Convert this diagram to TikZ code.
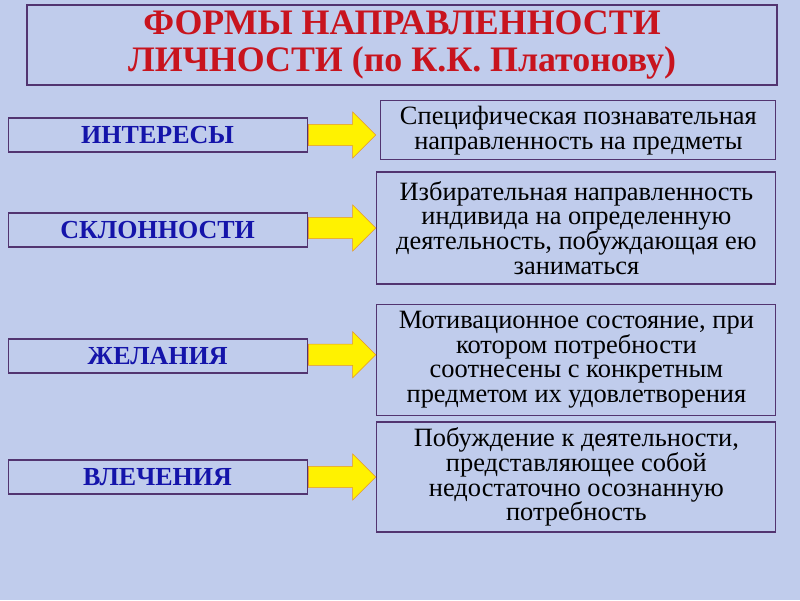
\documentclass[tikz,border=0pt]{standalone}
\usepackage{fontspec}
\setmainfont{Liberation Serif}
\usetikzlibrary{shapes.arrows}
\definecolor{bgblue}{RGB}{192,204,236}
\definecolor{frame}{RGB}{82,52,112}
\definecolor{titlered}{RGB}{200,20,30}
\definecolor{formblue}{RGB}{20,20,170}
\definecolor{arrowedge}{RGB}{230,150,40}
\tikzset{
  formbox/.style={rectangle, draw=frame, line width=0.8pt, minimum width=7.475cm, minimum height=0.85cm, font=\fontsize{18.5}{20}\selectfont\bfseries, text=formblue},
  descbox/.style={rectangle, draw=frame, line width=0.8pt, minimum width=9.975cm, align=center, font=\fontsize{18.8}{17.6}\selectfont, inner sep=2pt},
  fatarrow/.style={single arrow, draw=arrowedge, fill=yellow, minimum height=1.68cm, minimum width=1.15cm, single arrow head extend=0.3cm, inner sep=0.25cm}
}
\begin{document}
\begin{tikzpicture}
\fill[bgblue] (0,0) rectangle (20,15);
\useasboundingbox (0,0) rectangle (20,15);

\node [rectangle, draw=frame, line width=0.8pt, minimum width=18.75cm, minimum height=2cm, align=center, text=titlered, font=\fontsize{25.5}{26}\selectfont\bfseries] (title) at (10.05,13.875) {ФОРМЫ НАПРАВЛЕННОСТИ\\ЛИЧНОСТИ (по К.К. Платонову)};

\node [formbox] (interests)   at (3.94,11.625) {ИНТЕРЕСЫ};
\node [formbox] (inclination) at (3.94,9.25)   {СКЛОННОСТИ};
\node [formbox] (wishes)      at (3.94,6.1)    {ЖЕЛАНИЯ};
\node [formbox] (drives)      at (3.94,3.075)  {ВЛЕЧЕНИЯ};

\node [descbox, minimum width=9.875cm, minimum height=1.475cm] (interestsdesc) at (14.46,11.74) {Специфическая познавательная\\направленность на предметы};
\node [descbox, minimum height=2.8cm] (inclinationdesc) at (14.41,9.3) {Избирательная направленность\\индивида на определенную\\деятельность, побуждающая ею\\заниматься};
\node [descbox, minimum height=2.775cm] (wishesdesc) at (14.41,6.01) {Мотивационное состояние, при\\котором потребности\\соотнесены с конкретным\\предметом их удовлетворения};
\node [descbox, minimum height=2.75cm] (drivesdesc) at (14.41,3.075) {Побуждение к деятельности,\\представляющее собой\\недостаточно осознанную\\потребность};

\node [fatarrow] (arrowone)   at (8.42,11.625) {};
\node [fatarrow] (arrowtwo)   at (8.42,9.3)    {};
\node [fatarrow] (arrowthree) at (8.42,6.13)   {};
\node [fatarrow] (arrowfour)  at (8.42,3.075)  {};

\end{tikzpicture}
\end{document}
